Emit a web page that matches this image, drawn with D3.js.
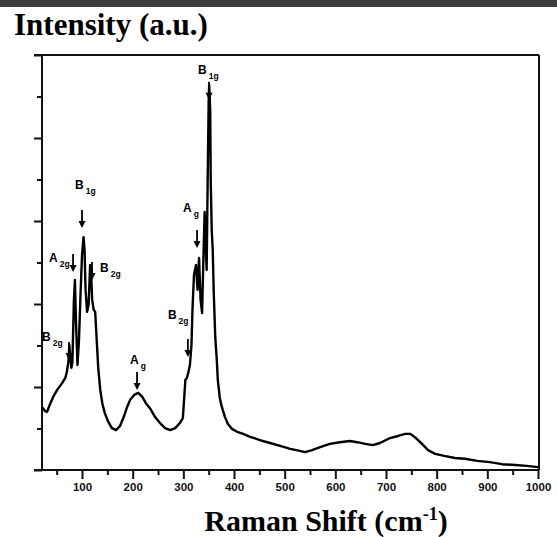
<!DOCTYPE html>
<html>
<head>
<meta charset="utf-8">
<script src="https://cdn.jsdelivr.net/npm/d3@7"></script>
<style>
  html, body { margin: 0; padding: 0; background: #fff; }
  svg { display: block; }
</style>
</head>
<body>
<svg id="chart" width="557" height="537"></svg>
<script>
// Raman shift (cm^-1) and intensity (a.u.) of the measured spectrum
const ramanShift = [
  21, 27, 31, 37, 43, 51, 61, 67, 70, 73, 75, 77, 79, 81, 84, 86, 88, 91, 94, 97,
  100, 103, 105, 107, 110, 113, 116, 118, 120, 123, 126, 129, 132, 136, 140, 145, 151, 159, 167, 175,
  183, 189, 195, 203, 211, 219, 226, 234, 244, 254, 264, 274, 284, 293, 299, 304, 307, 310, 313, 316,
  318, 321, 325, 328, 331, 334, 337, 340, 342, 344, 346, 348, 350, 351, 353, 354, 356, 358, 360, 363,
  366, 368, 372, 376, 382, 388, 396, 406, 418, 432, 451, 471, 491, 511, 530, 540, 554, 570, 589, 609,
  629, 643, 659, 674, 688, 708, 724, 738, 748, 759, 771, 783, 797, 815, 836, 856, 880, 905, 929, 955,
  978, 1000
];
const intensity = [
  1.52, 1.42, 1.40, 1.59, 1.76, 1.93, 2.10, 2.22, 2.36, 2.60, 3.01, 2.70, 2.46, 2.60, 4.10, 4.58, 3.61, 2.53, 3.13, 4.22,
  5.18, 5.61, 5.30, 4.34, 3.81, 3.98, 4.94, 4.70, 4.10, 3.86, 3.81, 3.13, 2.46, 1.93, 1.61, 1.37, 1.18, 1.01, 0.96, 1.06,
  1.30, 1.52, 1.69, 1.81, 1.86, 1.76, 1.61, 1.49, 1.28, 1.13, 1.01, 0.96, 1.01, 1.13, 1.25, 2.17, 2.22, 2.36, 2.53, 3.01,
  3.86, 4.70, 4.94, 4.34, 5.11, 4.10, 3.78, 5.30, 6.22, 5.42, 4.82, 6.99, 8.92, 9.28, 8.67, 6.99, 5.78, 5.30, 4.27, 3.20,
  2.65, 2.17, 1.73, 1.52, 1.28, 1.11, 0.99, 0.92, 0.87, 0.80, 0.72, 0.65, 0.58, 0.51, 0.46, 0.43, 0.48, 0.55, 0.63, 0.67,
  0.70, 0.67, 0.63, 0.60, 0.65, 0.77, 0.82, 0.87, 0.87, 0.77, 0.63, 0.48, 0.39, 0.34, 0.29, 0.27, 0.22, 0.19, 0.14, 0.12,
  0.10, 0.07
];

// Axis ticks
const xMajorTicks = [100, 200, 300, 400, 500, 600, 700, 800, 900, 1000];
const xMinorTicks = [50, 150, 250, 350, 450, 550, 650, 750, 850, 950];
const yMajorTicks = [0, 2, 4, 6, 8, 10];
const yMinorTicks = [1, 3, 5, 7, 9];

// Mode assignments: symbol, subscript, Raman shift of the arrow, intensity at the arrow tip
const modeSymbol = ["B", "A", "B", "B", "A", "B", "A", "B"];
const modeSub    = ["2g", "2g", "1g", "2g", "g", "2g", "g", "1g"];
const modeShift  = [74.4, 82.3, 100, 119.8, 208.6, 309, 327, 350.7];
const modeTip    = [2.65, 4.77, 5.83, 4.58, 1.93, 2.72, 5.35, 8.92];

const svg = d3.select("#chart");
const W = 557, H = 537;
const plot = { left: 42, right: 539, top: 55, bottom: 470 };

// dark strip along the top edge
svg.append("rect").attr("x", 0).attr("y", 0).attr("width", W).attr("height", 7).attr("fill", "#3f3f3f");

const x = d3.scaleLinear().domain([21, 1000]).range([plot.left, 538]);
const y = d3.scaleLinear().domain([0, 10]).range([plot.bottom, plot.top]);

const axisColor = "#111";

// frame
const frame = svg.append("g").attr("stroke", axisColor).attr("stroke-width", 2).attr("fill", "none");
frame.append("line").attr("x1", 34).attr("x2", plot.right).attr("y1", plot.top).attr("y2", plot.top);
frame.append("line").attr("x1", plot.right).attr("x2", plot.right).attr("y1", plot.top).attr("y2", plot.bottom);

// bottom axis: labelled majors and unlabelled minors
const xAxisMajor = d3.axisBottom(x).tickValues(xMajorTicks).tickSize(9).tickPadding(4).tickFormat(d3.format("d"));
const xAxisMinor = d3.axisBottom(x).tickValues(xMinorTicks).tickSize(5).tickFormat("");
const gxMinor = svg.append("g").attr("transform", `translate(0,${plot.bottom})`).call(xAxisMinor);
const gx = svg.append("g").attr("transform", `translate(0,${plot.bottom})`).call(xAxisMajor);
[gx, gxMinor].forEach(g => {
  g.select(".domain").remove();
  g.selectAll(".tick line").attr("stroke", axisColor).attr("stroke-width", 2);
});
gx.selectAll(".tick text")
  .attr("fill", "#111")
  .style("font-family", "'Liberation Sans', Arial, sans-serif")
  .style("font-size", "11.5px")
  .style("font-weight", "bold");

// left axis: ticks without labels
const yAxisMajor = d3.axisLeft(y).tickValues(yMajorTicks).tickSize(8).tickFormat("");
const yAxisMinor = d3.axisLeft(y).tickValues(yMinorTicks).tickSize(5).tickFormat("");
const gy = svg.append("g").attr("transform", `translate(${plot.left},0)`).call(yAxisMajor);
const gyMinor = svg.append("g").attr("transform", `translate(${plot.left},0)`).call(yAxisMinor);
[gy, gyMinor].forEach(g => {
  g.select(".domain").remove();
  g.selectAll(".tick line").attr("stroke", axisColor).attr("stroke-width", 2);
});

frame.raise();
svg.append("line").attr("x1", 34).attr("x2", plot.right).attr("y1", plot.bottom).attr("y2", plot.bottom)
  .attr("stroke", axisColor).attr("stroke-width", 2);
svg.append("line").attr("x1", plot.left).attr("x2", plot.left).attr("y1", plot.top - 1).attr("y2", plot.bottom)
  .attr("stroke", axisColor).attr("stroke-width", 2);

// spectrum
const spectrum = ramanShift.map((s, i) => [s, intensity[i]]);
const line = d3.line().x(d => x(d[0])).y(d => y(d[1]));
svg.append("path")
  .datum(spectrum)
  .attr("d", line)
  .attr("fill", "none")
  .attr("stroke", "#000")
  .attr("stroke-width", 2.4)
  .attr("stroke-linejoin", "round");

// mode arrows and labels
const labelOffset = [[-27, -19], [-24, -10], [-7, -39], [8, -8], [-7, -26], [-20, -38], [-14, -36], [-11, -26]];
const arrowLen = 18;
const ann = svg.append("g");
modeShift.forEach((s, i) => {
  const ax = x(s), ay = y(modeTip[i]);
  ann.append("line").attr("x1", ax).attr("x2", ax).attr("y1", ay - arrowLen).attr("y2", ay - 4)
    .attr("stroke", "#000").attr("stroke-width", 1.8);
  ann.append("path")
    .attr("d", `M${ax - 3.5},${ay - 7}L${ax + 3.5},${ay - 7}L${ax},${ay}Z`)
    .attr("fill", "#000");
  const t = ann.append("text")
    .attr("x", ax + labelOffset[i][0])
    .attr("y", ay + labelOffset[i][1])
    .attr("fill", "#000")
    .style("font-family", "'Liberation Sans', Arial, sans-serif")
    .style("font-weight", "bold")
    .style("font-size", "12px");
  t.append("tspan").text(modeSymbol[i]);
  t.append("tspan").attr("dx", 2).attr("dy", 5).style("font-size", "8.5px").text(modeSub[i]);
});

// axis titles
svg.append("text")
  .attr("x", 14).attr("y", 35)
  .style("font-family", "'Liberation Serif', 'Times New Roman', serif")
  .style("font-weight", "bold")
  .style("font-size", "31px")
  .attr("fill", "#000")
  .text("Intensity (a.u.)");

const xt = svg.append("text")
  .attr("x", 326).attr("y", 531)
  .attr("text-anchor", "middle")
  .style("font-family", "'Liberation Serif', 'Times New Roman', serif")
  .style("font-weight", "bold")
  .style("font-size", "30px")
  .attr("fill", "#000");
xt.append("tspan").text("Raman Shift (cm");
xt.append("tspan").attr("dy", -11).style("font-size", "18px").text("-1");
xt.append("tspan").attr("dy", 11).text(")");
</script>
</body>
</html>
